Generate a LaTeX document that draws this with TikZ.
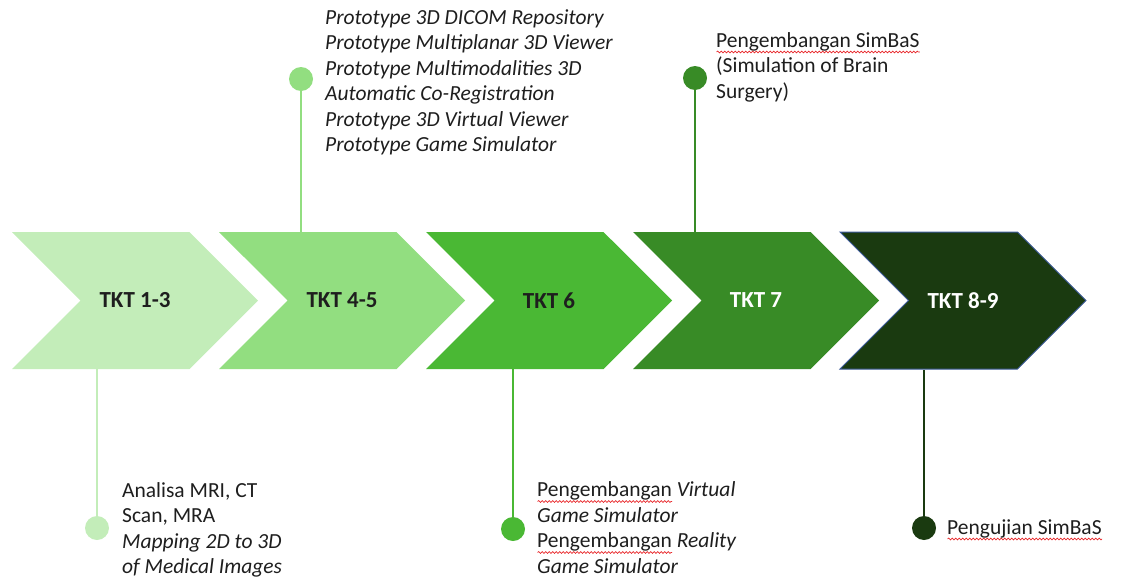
\documentclass[tikz,border=0pt]{standalone}
\usepackage{fontspec}
\setmainfont{Carlito}
\usetikzlibrary{shapes.symbols,decorations.pathmorphing}

\definecolor{tktA}{HTML}{C3EDB9}
\definecolor{tktB}{HTML}{92DE80}
\definecolor{tktC}{HTML}{4AB834}
\definecolor{tktD}{HTML}{388B26}
\definecolor{tktE}{HTML}{1A3A10}
\definecolor{tktEdge}{HTML}{3C5A99}
\definecolor{txt}{HTML}{1E1E1E}
\definecolor{squig}{HTML}{E8282B}

\newsavebox\sqbox
\newcommand\squig[1]{\sbox\sqbox{#1}\rlap{\tikz[baseline=0pt]\draw[squigline] (0pt,-5pt) -- (\wd\sqbox,-5pt);}\usebox\sqbox}

\tikzset{
  squigline/.style={draw=squig, line width=0.7pt, decorate,
    decoration={snake, amplitude=0.9pt, segment length=3.5pt}},
  tkt/.style={signal, signal to=east, signal from=west, minimum width=246pt,
    minimum height=137pt, inner sep=0pt, text=txt,
    font=\fontsize{23}{27}\selectfont\bfseries},
  dot/.style={circle, inner sep=0pt, minimum size=24pt},
  stem/.style={line width=1.8pt},
  note/.style={align=left, inner sep=0pt, text=txt,
    font=\fontsize{21.5}{25.5}\selectfont},
}

\begin{document}
\begin{tikzpicture}[x=1pt,y=-1pt]
  %\draw[help lines] (0,0) grid[step=50] (1125,581);
  \useasboundingbox (0,0) rectangle (1125,581);
  % stages
  \node[tkt, fill=tktA] (c1) at (135,300.5) {TKT 1-3};
  \node[tkt, fill=tktB] (c2) at (342,300.5) {TKT 4-5};
  \node[tkt, fill=tktC] (c3) at (549,300.5) {TKT 6};
  \node[tkt, fill=tktD, text=white] (c4) at (756,300.5) {TKT 7};
  \node[tkt, fill=tktE, draw=tktEdge, line width=1pt, text=white] (c5) at (963,300.5) {TKT 8-9};
  % milestones
  \node[dot, fill=tktA] (d1) at (97,528) {};
  \node[dot, fill=tktB] (d2) at (301,79) {};
  \node[dot, fill=tktC] (d3) at (513,529) {};
  \node[dot, fill=tktD] (d4) at (695,78) {};
  \node[dot, fill=tktE] (d5) at (924,528) {};
  \draw[stem, tktA] (d1) -- (d1 |- c1.south);
  \draw[stem, tktB] (d2) -- (d2 |- c2.north);
  \draw[stem, tktC] (d3) -- (d3 |- c3.south);
  \draw[stem, tktD] (d4) -- (d4 |- c4.north);
  \draw[stem, tktE] (d5) -- (d5 |- c5.south);
  % outputs (base = last line)
  \node[note, anchor=base west] (n1) at (122,573.5) {Analisa MRI, CT\\Scan, MRA\\\textit{Mapping 2D to 3D}\\\textit{of Medical Images}};
  \node[note, anchor=base west] (n2) at (325,151.5) {\textit{Prototype 3D DICOM Repository}\\\textit{Prototype Multiplanar 3D Viewer}\\\textit{Prototype Multimodalities 3D}\\\textit{Automatic Co-Registration}\\\textit{Prototype 3D Virtual Viewer}\\\textit{Prototype Game Simulator}};
  \node[note, anchor=base west] (n3) at (537,573) {\squig{Pengembangan} \textit{Virtual}\\\textit{Game Simulator}\\\squig{Pengembangan} \textit{Reality}\\\textit{Game Simulator}};
  \node[note, anchor=base west] (n4) at (716,98) {\squig{Pengembangan SimBaS}\\(Simulation of Brain\\Surgery)};
  \node[note, anchor=base west] (n5) at (947,534) {\squig{Pengujian SimBaS}};
\end{tikzpicture}
\end{document}
